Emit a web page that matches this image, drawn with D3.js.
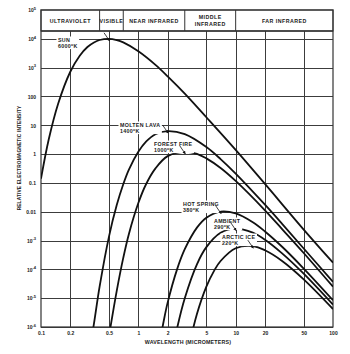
<!DOCTYPE html>
<html>
<head>
<meta charset="utf-8">
<script src="https://cdn.jsdelivr.net/npm/d3@7"></script>
<style>
  body { margin: 0; background: #fff; }
  text { font-family: "Liberation Sans", Arial, sans-serif; font-weight: bold; fill: #1a1a1a; }
</style>
</head>
<body>
<div id="chart"></div>
<script>
// axis ticks
const wlTicks = [0.1, 0.2, 0.5, 1, 2, 5, 10, 20, 50, 100];
const wlTickLabels = ["0.1", "0.2", "0.5", "1", "2", "5", "10", "20", "50", "100"];
const intensityTicks = [1e5, 1e4, 1e3, 100, 10, 1, 0.1, 0.01, 1e-3, 1e-4, 1e-5, 1e-6];
const intensityTickLabels = ["10^5", "10^4", "10^3", "100", "10", "1", "0.1", "0.01", "10^-3", "10^-4", "10^-5", "10^-6"];

// spectrum bands across the top
const bandNames = [["ULTRAVIOLET"], ["VISIBLE"], ["NEAR INFRARED"], ["MIDDLE", "INFRARED"], ["FAR INFRARED"]];
const bandEdges = [0.1, 0.4, 0.7, 3, 10, 100];

// curves (wavelength in micrometers, relative intensity)
const sunWl  = [0.1, 0.12, 0.15, 0.2, 0.25, 0.3, 0.35, 0.4, 0.5, 0.6, 0.7, 1, 1.5, 2, 3, 5, 10, 20, 50, 100];
const sunVal = [0.14, 3.2, 56, 720, 2600, 5200, 7500, 9100, 10000, 9000, 7500, 3700, 1250, 500, 126, 19, 1.4, 0.092, 0.0024, 0.00017];

const lavaWl  = [0.33, 0.35, 0.4, 0.5, 0.6, 0.7, 0.8, 1, 1.2, 1.5, 2, 3, 5, 7, 10, 20, 30, 50, 100];
const lavaVal = [4e-7, 1.3e-6, 2.5e-5, 1.4e-3, 0.017, 0.09, 0.29, 1.2, 2.7, 4.9, 6.3, 4.9, 1.75, 0.67, 0.21, 0.0175, 0.0038, 5.3e-4, 3.7e-5];

const fireWl  = [0.5, 0.6, 0.7, 0.8, 1, 1.2, 1.5, 2, 3, 4, 5, 7, 10, 20, 30, 50, 100];
const fireVal = [5e-7, 1.8e-5, 2.5e-4, 1.7e-3, 0.02, 0.09, 0.32, 0.85, 1.2, 1.02, 0.71, 0.33, 0.117, 0.0112, 0.0025, 3.7e-4, 2.5e-5];

const springWl  = [1.5, 1.8, 2, 2.5, 3, 4, 5, 7, 10, 15, 20, 30, 50, 100];
const springVal = [5e-8, 1.3e-6, 7e-6, 1e-4, 5e-4, 2.8e-3, 6.2e-3, 0.0101, 8.7e-3, 4.3e-3, 2.07e-3, 6.1e-4, 1.07e-4, 8.5e-6];

const ambientWl  = [2, 2.5, 3, 4, 5, 7, 10, 15, 20, 30, 50, 100];
const ambientVal = [2e-8, 9e-7, 1e-5, 1.5e-4, 5.9e-4, 1.86e-3, 2.6e-3, 1.87e-3, 1.07e-3, 3.6e-4, 7.1e-5, 6e-6];

const arcticWl  = [3, 4, 5, 6, 7, 10, 15, 20, 30, 50, 100];
const arcticVal = [5e-8, 2.8e-6, 2.5e-5, 8.9e-5, 1.95e-4, 5.4e-4, 6.4e-4, 4.6e-4, 1.96e-4, 4.5e-5, 4.2e-6];

const sourceNames = [["SUN", "6000°K"], ["MOLTEN LAVA", "1400°K"], ["FOREST FIRE", "1000°K"],
                     ["HOT SPRING", "380°K"], ["AMBIENT", "290°K"], ["ARCTIC ICE", "220°K"]];

// label placement (pixel positions, first line baseline)
const labelLayout = [
  { x: 58, y: 42 },
  { x: 120, y: 127 },
  { x: 154, y: 146 },
  { x: 183, y: 206 },
  { x: 214, y: 223 },
  { x: 222, y: 239 }
];

const width = 350, height = 354;
const marginLeft = 41, marginRight = 17, marginTop = 10, marginBottom = 27;
const bandBottom = 31;

const x = d3.scaleLog().domain([0.1, 100]).range([marginLeft, width - marginRight]);
const y = d3.scaleLog().domain([1e-6, 1e5]).range([height - marginBottom, marginTop]);

const svg = d3.select("#chart").append("svg")
  .attr("width", width).attr("height", height)
  .attr("viewBox", [0, 0, width, height]);

svg.append("rect").attr("width", width).attr("height", height).attr("fill", "#fff");

const gridColor = "#3c3c3c";

// horizontal grid (below band)
svg.append("g")
  .attr("transform", `translate(${marginLeft},0)`)
  .call(d3.axisLeft(y).tickValues(intensityTicks.filter(d => d < 1e5)).tickSize(-(x(100) - x(0.1))).tickFormat(""))
  .call(g => g.select(".domain").remove())
  .call(g => g.selectAll(".tick line").attr("stroke", gridColor).attr("stroke-width", 1).attr("shape-rendering", "crispEdges"));

// vertical grid
svg.append("g")
  .attr("transform", `translate(0,${y(1e-6)})`)
  .call(d3.axisBottom(x).tickValues(wlTicks.slice(1, -1)).tickSize(-(y(1e-6) - bandBottom)).tickFormat(""))
  .call(g => g.select(".domain").remove())
  .call(g => g.selectAll(".tick line").attr("stroke", gridColor).attr("stroke-width", 1).attr("shape-rendering", "crispEdges"));

// band header
const band = svg.append("g");
band.append("rect")
  .attr("x", x(0.1)).attr("y", y(1e5))
  .attr("width", x(100) - x(0.1)).attr("height", bandBottom - y(1e5))
  .attr("fill", "#fff").attr("stroke", "#333").attr("stroke-width", 1);
band.append("line")
  .attr("x1", x(0.1)).attr("x2", x(100))
  .attr("y1", bandBottom).attr("y2", bandBottom)
  .attr("stroke", "#333").attr("stroke-width", 1.6);
band.selectAll(".divider").data(bandEdges.slice(1, -1)).join("line")
  .attr("x1", d => x(d)).attr("x2", d => x(d))
  .attr("y1", y(1e5)).attr("y2", bandBottom)
  .attr("stroke", "#333");
band.selectAll(".bandlabel").data(bandNames).join("text")
  .attr("text-anchor", "middle")
  .attr("font-size", 5.3)
  .attr("letter-spacing", 0.45)
  .attr("transform", (d, i) => {
    const cx = (x(bandEdges[i]) + x(bandEdges[i + 1])) / 2;
    const cy = (y(1e5) + bandBottom) / 2 + 2 - (d.length - 1) * 3.5;
    return `translate(${cx},${cy})`;
  })
  .each(function(d) {
    d3.select(this).selectAll("tspan").data(d).join("tspan")
      .attr("x", 0).attr("dy", (t, j) => j ? 7 : 0).text(t => t);
  });

// plot frame
svg.append("rect")
  .attr("x", x(0.1)).attr("y", y(1e5))
  .attr("width", x(100) - x(0.1)).attr("height", y(1e-6) - y(1e5))
  .attr("fill", "none").attr("stroke", "#333").attr("stroke-width", 1.2);

// y axis labels
const yAxis = svg.append("g")
  .attr("transform", `translate(${marginLeft},0)`)
  .call(d3.axisLeft(y).tickValues(intensityTicks).tickSize(0).tickPadding(5).tickFormat(""))
  .call(g => g.select(".domain").remove());
yAxis.selectAll(".tick").each(function(d, i) {
  const parts = intensityTickLabels[i].split("^");
  const t = d3.select(this).append("text")
    .attr("x", -5).attr("dy", "0.35em").attr("text-anchor", "end")
    .attr("font-size", 5);
  t.append("tspan").text(parts[0]);
  if (parts[1]) t.append("tspan").attr("dy", -2.5).attr("font-size", 4).text(parts[1]);
});

// x axis labels
svg.append("g")
  .attr("transform", `translate(0,${y(1e-6)})`)
  .call(d3.axisBottom(x).tickValues(wlTicks).tickSize(0).tickPadding(4).tickFormat((d, i) => wlTickLabels[i]))
  .call(g => g.select(".domain").remove())
  .call(g => g.selectAll("text").attr("font-size", 5).attr("font-family", null).attr("fill", "#1a1a1a"));

// axis titles
svg.append("text")
  .attr("x", 188).attr("y", 344)
  .attr("text-anchor", "middle").attr("font-size", 5.3).attr("letter-spacing", 0.2)
  .text("WAVELENGTH (MICROMETERS)");
svg.append("text")
  .attr("transform", "translate(21,158) rotate(-90)")
  .attr("text-anchor", "middle").attr("font-size", 4.8).attr("letter-spacing", 0.15)
  .text("RELATIVE ELECTROMAGNETIC INTENSITY");

// curves
const series = [
  [sunWl, sunVal], [lavaWl, lavaVal], [fireWl, fireVal],
  [springWl, springVal], [ambientWl, ambientVal], [arcticWl, arcticVal]
].map(([w, v]) => w.map((d, i) => ({ wl: d, val: v[i] })));

svg.append("clipPath").attr("id", "plot-clip")
  .append("rect")
  .attr("x", x(0.1)).attr("y", bandBottom)
  .attr("width", x(100) - x(0.1)).attr("height", y(1e-6) - bandBottom);

const line = d3.line()
  .x(d => x(d.wl)).y(d => y(d.val))
  .curve(d3.curveCatmullRom.alpha(0.5));

svg.append("g").attr("clip-path", "url(#plot-clip)")
  .selectAll("path").data(series).join("path")
  .attr("d", line)
  .attr("fill", "none").attr("stroke", "#111").attr("stroke-width", 1.8);

// source labels with white backing
const labels = svg.append("g");
sourceNames.forEach((lines, i) => {
  const L = labelLayout[i];
  const g = labels.append("g");
  const t = g.append("text")
    .attr("x", L.x).attr("y", L.y)
    .attr("font-size", 5.3).attr("letter-spacing", 0.3);
  lines.forEach((s, j) => {
    const tsp = t.append("tspan").attr("x", L.x).attr("dy", j ? 5.6 : 0);
    const m = s.match(/^(\d+)°(K)$/);
    if (m) {
      tsp.text(m[1]);
      t.append("tspan").attr("dy", -2).attr("font-size", 3.6).text("o");
      t.append("tspan").attr("dy", 2).text("K");
    } else tsp.text(s);
  });
  const b = t.node().getBBox();
  g.insert("rect", "text")
    .attr("x", b.x - 1.5).attr("y", b.y - 0.5)
    .attr("width", b.width + 3).attr("height", b.height + 1)
    .attr("fill", "#fff");
});

// leaders pointing at each peak
svg.append("defs").append("marker")
  .attr("id", "tip").attr("viewBox", "0 0 6 6")
  .attr("refX", 5).attr("refY", 3)
  .attr("markerWidth", 4).attr("markerHeight", 4)
  .attr("orient", "auto")
  .append("path").attr("d", "M0,0L6,3L0,6Z").attr("fill", "#111");

const peaks = series.map(s => s.reduce((a, b) => (b.val > a.val ? b : a)));
svg.append("g").selectAll("line").data(peaks).join("line")
  .attr("x1", d => x(d.wl) - 5).attr("y1", d => y(d.val) - 6)
  .attr("x2", d => x(d.wl) + 0.5).attr("y2", d => y(d.val) + 2)
  .attr("stroke", "#111").attr("stroke-width", 0.8)
  .attr("marker-end", "url(#tip)");
</script>
</body>
</html>
